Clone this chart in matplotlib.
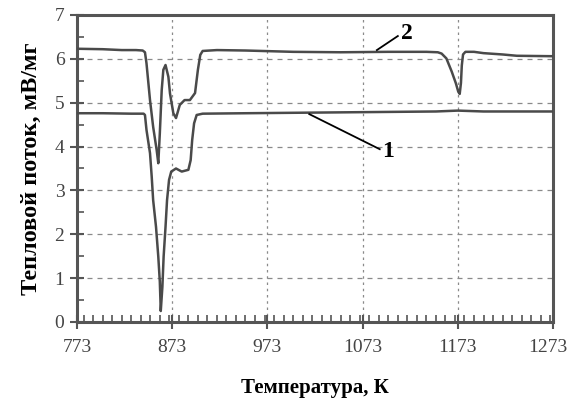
import matplotlib
matplotlib.use("Agg")
import matplotlib.pyplot as plt
from matplotlib.ticker import MultipleLocator
from matplotlib.transforms import ScaledTranslation

# Curve 1 (lower)
t1 = [773, 800, 830, 843, 844.4, 846, 849.7, 851.5, 853, 856, 858.4, 860, 861,
      862.7, 864, 866, 867.6, 869.7, 872, 877, 883, 890, 892.4, 894, 896, 898.7,
      905, 950, 1000, 1050, 1100, 1150, 1173, 1200, 1240, 1273]
v1 = [4.76, 4.76, 4.75, 4.75, 4.72, 4.38, 3.85, 3.31, 2.78, 2.17, 1.49, 0.92, 0.25,
      0.80, 1.49, 2.17, 2.78, 3.24, 3.43, 3.50, 3.43, 3.47, 3.69, 4.15, 4.53, 4.72,
      4.75, 4.76, 4.77, 4.78, 4.79, 4.80, 4.82, 4.80, 4.80, 4.80]

# Curve 2 (upper)
t2 = [773, 800, 820, 835, 842, 844.4, 846, 849.7, 853, 856.7, 858.4, 860, 862,
      863.7, 866, 869, 870.7, 874.2, 877, 881, 886, 891.6, 897, 900, 902.5, 905,
      920, 950, 1000, 1050, 1100, 1140, 1152, 1156, 1161, 1166.6, 1171, 1173.5,
      1175, 1176.3, 1177.2, 1178.5, 1181, 1190, 1200, 1220, 1235, 1273]
v2 = [6.23, 6.22, 6.20, 6.20, 6.19, 6.15, 5.90, 5.06, 4.45, 3.92, 3.62, 4.30, 5.29,
      5.75, 5.86, 5.59, 5.21, 4.76, 4.65, 4.95, 5.06, 5.06, 5.22, 5.75, 6.09, 6.18,
      6.20, 6.19, 6.16, 6.15, 6.16, 6.16, 6.15, 6.12, 6.01, 5.71, 5.44, 5.25,
      5.20, 5.45, 5.85, 6.10, 6.16, 6.16, 6.13, 6.10, 6.07, 6.06]

xticks = [773, 873, 973, 1073, 1173, 1273]
yticks = [0, 1, 2, 3, 4, 5, 6, 7]

fig = plt.figure(figsize=(5.69, 4.03), dpi=100)
ax = fig.add_axes([0.1353, 0.201, 0.9719 - 0.1353, 0.9628 - 0.201])

line_col = "#4a4a4a"
ax.plot(t1, v1, color=line_col, lw=1.8, zorder=3)
ax.plot(t2, v2, color=line_col, lw=1.8, zorder=3)

ax.set_xlim(773, 1273)
ax.set_ylim(0, 7)
ax.set_xticks(xticks)
ax.set_yticks(yticks)
ax.xaxis.set_minor_locator(MultipleLocator(10))
ax.yaxis.set_minor_locator(MultipleLocator(0.5))

for gx in xticks[1:-1]:
    ax.axvline(gx, color="#8a8a8a", lw=0.9, ls=(0, (2, 3)), zorder=1)
for gy in yticks[1:-1]:
    ax.axhline(gy, color="#8a8a8a", lw=0.9, ls=(0, (4, 4)), zorder=1)

for s in ax.spines.values():
    s.set_linewidth(2.2)
    s.set_color("#555555")

ax.tick_params(which="major", direction="inout", length=10, width=1.5,
               color="#555555", labelsize=14, labelcolor="#444444")
ax.tick_params(axis="x", which="major", pad=7)
ax.tick_params(axis="y", which="major", pad=4)
ax.tick_params(which="minor", direction="in", length=5, width=1.2, color="#555555")
ax.tick_params(axis="x", which="both", top=False)
ax.tick_params(axis="y", which="both", right=False)

for lab in ax.get_xticklabels() + ax.get_yticklabels():
    lab.set_family("Liberation Serif")

xl = ax.get_xticklabels()
xl[-1].set_transform(xl[-1].get_transform() + ScaledTranslation(-0.05, 0, fig.dpi_scale_trans))

ax.set_xlabel("Температура, К", family="Liberation Serif", fontweight="bold",
              fontsize=15, labelpad=16)
ax.set_ylabel("Тепловой поток, мВ/мг", family="Liberation Serif", fontweight="bold",
              fontsize=17.5, labelpad=9)

ax.plot([1088, 1110], [6.2, 6.52], color="black", lw=1.3, zorder=4)
ax.text(1113, 6.58, "2", family="Liberation Serif", fontweight="bold",
        fontsize=17, ha="left", va="center")
ax.plot([1017, 1091], [4.74, 3.94], color="black", lw=1.3, zorder=4)
ax.text(1094, 3.88, "1", family="Liberation Serif", fontweight="bold",
        fontsize=17, ha="left", va="center")

fig.savefig("out.png", dpi=100)
